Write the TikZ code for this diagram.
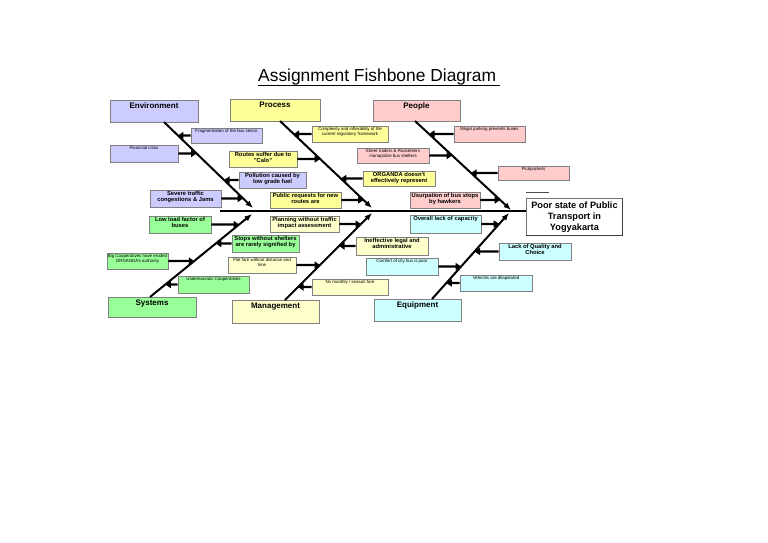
\documentclass[tikz,border=0pt]{standalone}
\usepackage{fontspec}
\setmainfont{Liberation Sans}
\usetikzlibrary{arrows.meta,fit}
\definecolor{envc}{RGB}{204,204,255}
\definecolor{procc}{RGB}{255,255,153}
\definecolor{peopc}{RGB}{255,204,204}
\definecolor{sysc}{RGB}{153,255,153}
\definecolor{mgmtc}{RGB}{255,255,204}
\definecolor{equc}{RGB}{204,255,255}
\definecolor{bordc}{RGB}{128,128,128}
\newcommand\fbx[8]{%
  \node[boxst, fill=#2, fit={(#3,#4) (#5,#6)}] (#1) {};
  \node[#7] (#1t) at (#1.north) {#8};
}
\begin{document}
\begin{tikzpicture}[x=1pt,y=-1pt,
  boxst/.style={draw=bordc, line width=0.6pt, inner sep=0pt},
  tinyt/.style={anchor=north, inner sep=0pt, align=center, yshift=-1.6pt, font=\fontsize{4.4}{5.3}\selectfont},
  boldt/.style={anchor=north, inner sep=0pt, align=center, yshift=-0.9pt, font=\bfseries\fontsize{5.8}{6.9}\selectfont},
  catt/.style={anchor=north, inner sep=0pt, align=center, yshift=-2.6pt, font=\bfseries\fontsize{8}{9}\selectfont},
  bone/.style={line width=2pt, -{Latex[length=7.5pt,width=6pt]}},
  subar/.style={line width=2.1pt, -{Triangle[length=5.5pt,width=7pt]}}
]
\useasboundingbox (0,0) rectangle (768,542);
\fill[white] (0,0) rectangle (768,542);

% title
\node[anchor=base west, inner sep=0pt, font=\fontsize{17.4}{20}\selectfont] (title) at (258,81.5) {Assignment Fishbone Diagram};
\draw[line width=0.8pt] (title.base west) ++(0,4.2) coordinate (ul) -- ++(242,0);

% head
\node[draw=black!55, line width=0.9pt, fill=white, minimum width=96pt, minimum height=37pt, inner sep=0pt,
  anchor=north west, align=center, font=\bfseries\fontsize{9.2}{10.8}\selectfont] (head) at (526,198)
  {Poor state of Public\\Transport in\\Yogyakarta};
\draw[black!75, line width=1.1pt] (head.north east) -- (head.south east) -- (head.south west);
\draw[black!70, line width=0.8pt] ([yshift=6pt]head.north west) -- ++(23,0);

% spine
\coordinate (sp) at (220,211);
\draw[line width=2.4pt] (sp) -- (sp -| head.west);

% categories
\fbx{env}{envc}{110}{100}{198}{122}{catt}{Environment}
\fbx{proc}{procc}{230}{99}{320}{121}{catt}{Process}
\fbx{peop}{peopc}{373}{100}{460}{121}{catt}{People}
\fbx{sys}{sysc}{108}{297}{196}{317}{catt}{Systems}
\fbx{mgmt}{mgmtc}{232}{300}{319}{323}{catt}{Management}
\fbx{equ}{equc}{374}{299}{461}{321}{catt}{Equipment}

% bones
\coordinate (eA) at (164,122); \coordinate (eB) at (253,208);
\coordinate (pA) at (280,121); \coordinate (pB) at (372,208);
\coordinate (qA) at (415,121); \coordinate (qB) at (511,210);
\coordinate (sA) at (150,297); \coordinate (sB) at (252,214);
\coordinate (mA) at (285,300); \coordinate (mB) at (372,213);
\coordinate (kA) at (432,299); \coordinate (kB) at (509,213);
\draw[bone] (eA) -- (eB);
\draw[bone] (pA) -- (pB);
\draw[bone] (qA) -- (qB);
\draw[bone] (sA) -- (sB);
\draw[bone] (mA) -- (mB);
\draw[bone] (kA) -- (kB);

% Environment causes
\fbx{e1}{envc}{191}{128}{262}{143}{tinyt}{Fragmentation of the bus sector}
\fbx{e2}{envc}{110}{145}{178}{162}{tinyt}{Financial crisis}
\fbx{e3}{envc}{239}{172}{306}{188}{boldt}{Pollution caused by\\low grade fuel}
\fbx{e4}{envc}{150}{190}{221}{207}{boldt}{Severe traffic\\congestions \& Jams}
\draw[subar] (e1.west) -- (intersection of eA--eB and e1.west--e1.east);
\draw[subar] (e2.east) -- (intersection of eA--eB and e2.west--e2.east);
\draw[subar] (e3.west) -- (intersection of eA--eB and e3.west--e3.east);
\draw[subar] (e4.east) -- (intersection of eA--eB and e4.west--e4.east);

% Process causes
\fbx{p1}{procc}{312}{126}{388}{142}{tinyt}{Complexity and inflexibility of the\\current regulatory framework}
\fbx{p2}{procc}{229}{151}{297}{167}{boldt}{Routes suffer due to\\"Calo"}
\fbx{p3}{procc}{363}{171}{435}{186}{boldt}{ORGANDA doesn't\\effectively represent}
\fbx{p4}{procc}{270}{192}{341}{208}{boldt}{Public requests for new\\routes are}
\draw[subar] (p1.west) -- (intersection of pA--pB and p1.west--p1.east);
\draw[subar] (p2.east) -- (intersection of pA--pB and p2.west--p2.east);
\draw[subar] (p3.west) -- (intersection of pA--pB and p3.west--p3.east);
\draw[subar] (p4.east) -- (intersection of pA--pB and p4.west--p4.east);

% People causes
\fbx{q1}{peopc}{454}{126}{525}{142}{tinyt}{Illegal parking prevents buses}
\fbx{q2}{peopc}{357}{148}{429}{163}{tinyt}{Street traders \& Racketeers\\monopolize bus shelters}
\fbx{q3}{peopc}{498}{166}{569}{180}{tinyt}{Pickpockets}
\fbx{q4}{peopc}{410}{192}{480}{208}{boldt}{Usurpation of bus stops\\by hawkers}
\draw[subar] (q1.west) -- (intersection of qA--qB and q1.west--q1.east);
\draw[subar] (q2.east) -- (intersection of qA--qB and q2.west--q2.east);
\draw[subar] (q3.west) -- (intersection of qA--qB and q3.west--q3.east);
\draw[subar] (q4.east) -- (intersection of qA--qB and q4.west--q4.east);

% Systems causes
\fbx{s1}{sysc}{149}{216}{211}{233}{boldt}{Low load factor of\\buses}
\fbx{s2}{sysc}{232}{235}{299}{252}{boldt}{Stops without shelters\\are rarely signified by}
\fbx{s3}{sysc}{107}{253}{168}{269}{tinyt}{Big Cooperatives have eroded\\ORGANDA's authority}
\fbx{s4}{sysc}{178}{276}{249}{293}{tinyt}{Undemocratic Cooperatives}
\draw[subar] (s1.east) -- (intersection of sA--sB and s1.west--s1.east);
\draw[subar] (s2.west) -- (intersection of sA--sB and s2.west--s2.east);
\draw[subar] (s3.east) -- (intersection of sA--sB and s3.west--s3.east);
\draw[subar] (s4.west) -- (intersection of sA--sB and s4.west--s4.east);

% Management causes
\fbx{m1}{mgmtc}{270}{216}{339}{232}{boldt}{Planning without traffic\\impact assessment}
\fbx{m2}{mgmtc}{356}{237}{428}{255}{boldt}{Ineffective legal and\\administrative}
\fbx{m3}{mgmtc}{228}{257}{296}{273}{tinyt}{Flat fare without distance and\\time}
\fbx{m4}{mgmtc}{312}{279}{388}{295}{tinyt}{No monthly / season fare}
\draw[subar] (m1.east) -- (intersection of mA--mB and m1.west--m1.east);
\draw[subar] (m2.west) -- (intersection of mA--mB and m2.west--m2.east);
\draw[subar] (m3.east) -- (intersection of mA--mB and m3.west--m3.east);
\draw[subar] (m4.west) -- (intersection of mA--mB and m4.west--m4.east);

% Equipment causes
\fbx{k1}{equc}{410}{215}{481}{233}{boldt}{Overall lack of capacity}
\fbx{k2}{equc}{499}{243}{571}{260}{boldt}{Lack of Quality and\\Choice}
\fbx{k3}{equc}{366}{258}{438}{275}{tinyt}{Comfort of city bus is poor}
\fbx{k4}{equc}{460}{275}{532}{291}{tinyt}{Vehicles are dilapidated}
\draw[subar] (k1.east) -- (intersection of kA--kB and k1.west--k1.east);
\draw[subar] (k2.west) -- (intersection of kA--kB and k2.west--k2.east);
\draw[subar] (k3.east) -- (intersection of kA--kB and k3.west--k3.east);
\draw[subar] (k4.west) -- (intersection of kA--kB and k4.west--k4.east);
\end{tikzpicture}
\end{document}
